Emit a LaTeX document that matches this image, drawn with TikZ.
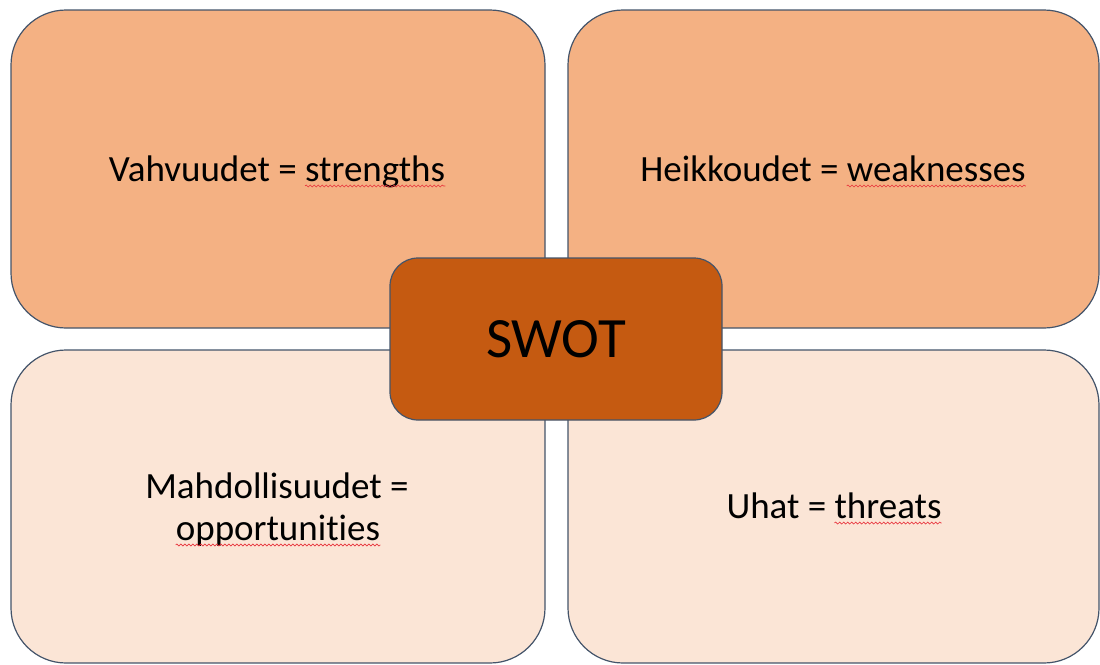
\documentclass[tikz,border=0pt]{standalone}
\usepackage{fontspec}
\setmainfont{Carlito}[Ligatures=NoCommon]
\usetikzlibrary{decorations.pathmorphing}
\definecolor{topFill}{HTML}{F4B183}
\definecolor{botFill}{HTML}{FBE5D6}
\definecolor{midFill}{HTML}{C55A11}
\definecolor{boxDraw}{HTML}{44546A}
\definecolor{spellRed}{HTML}{E8303A}

\begin{document}
\begin{tikzpicture}[x=1pt,y=-1pt,
  bx/.style={rectangle,rounded corners=55pt,draw=boxDraw,line width=1.2pt,inner sep=0pt},
  topb/.style={bx,fill=topFill,minimum width=534pt,minimum height=318pt},
  botb/.style={bx,fill=botFill,minimum width=534pt,minimum height=313pt},
  midb/.style={bx,rounded corners=28pt,fill=midFill,minimum width=332pt,minimum height=162pt},
  lbl/.style={inner sep=0pt,font=\fontsize{37}{43}\selectfont},
  big/.style={inner sep=0pt,font=\fontsize{57}{66}\selectfont},
  squig/.style={draw=spellRed,line width=0.6pt,decorate,
    decoration={snake,amplitude=1pt,segment length=4pt}},
]
\useasboundingbox (0,0) rectangle (1100,664);

% ---- the four quarters ---------------------------------------------------
\node[topb] (tl) at (278,169)   {};
\node[topb,minimum width=531pt] (tr) at (833.5,169) {};
\node[botb] (bl) at (278,506.5) {};
\node[botb,minimum width=531pt] (br) at (833.5,506.5) {};

% ---- centre box ----------------------------------------------------------
\node[midb] (swot) at (556,339) {};
\node[big,anchor=base] (swott) at (556,357) {SWOT};

% ---- texts ---------------------------------------------------------------
\node[lbl,anchor=base] (tlt) at (277,181) {Vahvuudet = strengths};
\node[lbl,anchor=base east] (tlw) at (tlt.base east) {\phantom{strengths}};

\node[lbl,anchor=base] (trt) at (833,181) {Heikkoudet = weaknesses};
\node[lbl,anchor=base east] (trw) at (trt.base east) {\phantom{weaknesses}};

\node[lbl,anchor=base] (blt) at (277,498) {Mahdollisuudet =};
\node[lbl,anchor=base] (blw) at (278,540) {opportunities};

\node[lbl,anchor=base] (brt) at (834,518) {Uhat = threats};
\node[lbl,anchor=base east] (brw) at (brt.base east) {\phantom{threats}};

% spelling marks under the English words
\foreach \w in {tlw,trw,blw,brw}
  \draw[squig] ([yshift=-5pt]\w.base west) -- ([yshift=-5pt]\w.base east);

\end{tikzpicture}
\end{document}
